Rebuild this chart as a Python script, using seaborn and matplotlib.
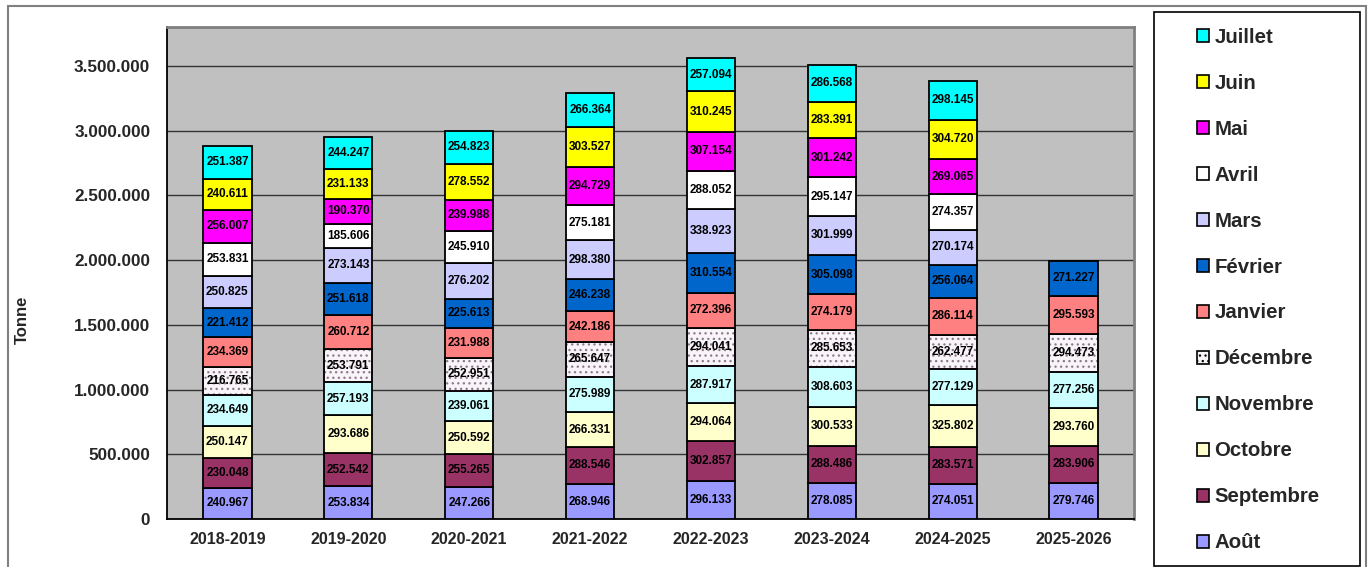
import pandas as pd
import matplotlib.pyplot as plt
import seaborn as sns
from matplotlib.patches import Patch, Rectangle
from matplotlib.ticker import FuncFormatter, MultipleLocator, FixedLocator

# Tonnage par mois et par campagne
years = ["2018-2019", "2019-2020", "2020-2021", "2021-2022",
         "2022-2023", "2023-2024", "2024-2025", "2025-2026"]
months = ["Août", "Septembre", "Octobre", "Novembre", "Décembre", "Janvier",
          "Février", "Mars", "Avril", "Mai", "Juin", "Juillet"]

aout = [240967, 253834, 247266, 268946, 296133, 278085, 274051, 279746]
septembre = [230048, 252542, 255265, 288546, 302857, 288486, 283571, 283906]
octobre = [250147, 293686, 250592, 266331, 294064, 300533, 325802, 293760]
novembre = [234649, 257193, 239061, 275989, 287917, 308603, 277129, 277256]
decembre = [216765, 253791, 252951, 265647, 294041, 285653, 262477, 294473]
janvier = [234369, 260712, 231988, 242186, 272396, 274179, 286114, 295593]
fevrier = [221412, 251618, 225613, 246238, 310554, 305098, 256064, 271227]
mars = [250825, 273143, 276202, 298380, 338923, 301999, 270174, None]
avril = [253831, 185606, 245910, 275181, 288052, 295147, 274357, None]
mai = [256007, 190370, 239988, 294729, 307154, 301242, 269065, None]
juin = [240611, 231133, 278552, 303527, 310245, 283391, 304720, None]
juillet = [251387, 244247, 254823, 266364, 257094, 286568, 298145, None]

series = [aout, septembre, octobre, novembre, decembre, janvier,
          fevrier, mars, avril, mai, juin, juillet]
colors = ["#9999FF", "#993366", "#FFFFCC", "#CCFFFF", "#F8F4F8", "#FF8080",
          "#0066CC", "#CCCCFF", "#FFFFFF", "#FF00FF", "#FFFF00", "#00FFFF"]
hatches = [None, None, None, None, "...", None, None, None, None, None, None, None]

# long table with stacking base
rows = []
base = {y: 0 for y in years}
for m, vals in zip(months, series):
    for y, v in zip(years, vals):
        if v is None:
            continue
        rows.append({"year": y, "month": m, "value": v, "bottom": base[y]})
        base[y] += v
df = pd.DataFrame(rows)

sns.set_style("white")
plt.rcParams["font.family"] = ["Liberation Sans", "DejaVu Sans"]
plt.rcParams["hatch.linewidth"] = 0.9

fig = plt.figure(figsize=(13.71, 5.67), dpi=100)
W, H = 1371, 567
ax = fig.add_axes([167 / W, 1 - 519 / H, (1134 - 167) / W, (519 - 27) / H])
ax.set_facecolor("#C0C0C0")

def fmt(v):
    return f"{int(v):,}".replace(",", ".")

for m, c, h in zip(months, colors, hatches):
    sub = df[df["month"] == m]
    sns.barplot(data=sub, x="year", y="value", order=years, bottom=sub["bottom"].values,
                color=c, saturation=1, width=0.4, errorbar=None,
                edgecolor="#8a7a8a" if h else "black",
                linewidth=1.3, hatch=h, ax=ax, zorder=3)
    if h:
        # black outline over the dotted fill
        sns.barplot(data=sub, x="year", y="value", order=years, bottom=sub["bottom"].values,
                    fill=False, width=0.4, errorbar=None, color="black",
                    linewidth=1.3, ax=ax, zorder=3)
    ax.bar_label(ax.containers[-1], labels=[fmt(v) for v in sub["value"]],
                 label_type="center", fontsize=8.5, fontweight="bold", color="black", zorder=4)

ax.set_xlim(-0.5, 7.5)
ax.set_ylim(0, 3800000)
ax.yaxis.set_major_locator(MultipleLocator(500000))
ax.yaxis.set_major_formatter(FuncFormatter(lambda v, p: fmt(v)))
ax.grid(axis="y", color="#333333", linewidth=1.0)
ax.set_axisbelow(True)

ax.xaxis.set_minor_locator(FixedLocator([i - 0.5 for i in range(len(years) + 1)]))
ax.tick_params(axis="x", which="major", length=0, pad=9, labelsize=11.5)
ax.tick_params(axis="x", which="minor", length=5, width=1, direction="out", color="black")
ax.tick_params(axis="y", length=5, width=1, direction="out", color="black", labelsize=12.3, pad=7)
for lab in ax.get_xticklabels() + ax.get_yticklabels():
    lab.set_fontweight("bold")

ax.set_xlabel("")
ax.set_ylabel("Tonne", fontsize=12, fontweight="bold")
ax.yaxis.set_label_coords((30 - 167) / 967, (519 - 320) / 492)

for s in ["left", "bottom"]:
    ax.spines[s].set_color("black")
    ax.spines[s].set_linewidth(1.3)
for s in ["top", "right"]:
    ax.spines[s].set_color("#808080")
    ax.spines[s].set_linewidth(2)

# outer frame and legend box
fig.patches.append(Rectangle((8 / W, -0.05), (1366 - 8) / W, 1.05 - 6 / H,
                             transform=fig.transFigure, fill=False,
                             edgecolor="#808080", linewidth=1.5))
fig.patches.append(Rectangle((1154 / W, 1 - 566 / H), (1360 - 1154) / W, (566 - 12) / H,
                             transform=fig.transFigure, fill=False,
                             edgecolor="black", linewidth=1.2))

handles = [Patch(facecolor=c, edgecolor="black", hatch=h, linewidth=1.2)
           for c, h in zip(colors, hatches)][::-1]
fig.legend(handles, months[::-1], loc="center left",
           bbox_to_anchor=(1187 / W, 1 - 290 / H), frameon=False,
           prop={"weight": "bold", "size": 14.7}, handlelength=0.6, handleheight=0.6,
           handletextpad=0.25, labelspacing=1.32, borderpad=0)

plt.savefig("out.png", dpi=100)
